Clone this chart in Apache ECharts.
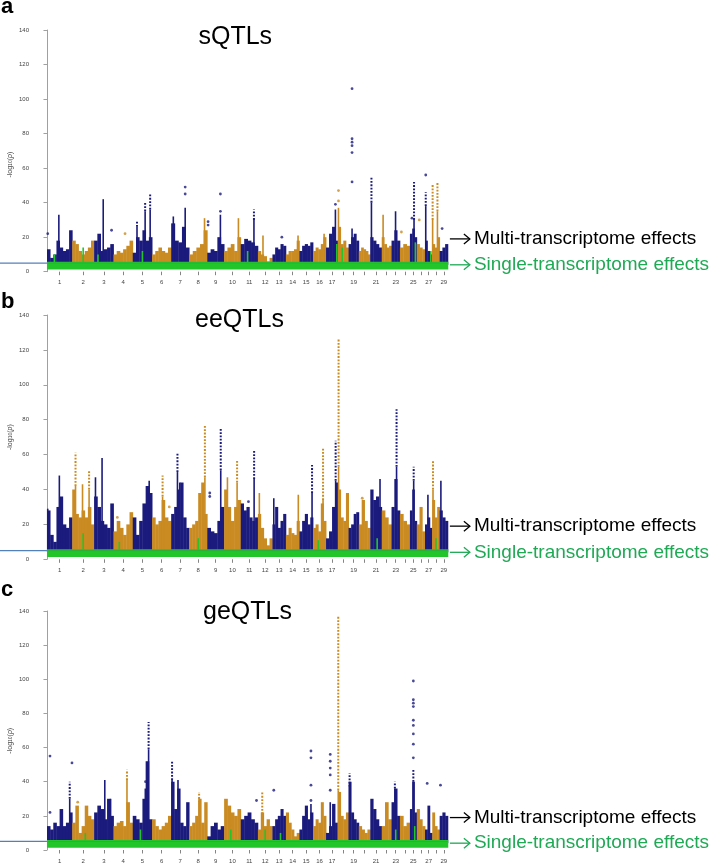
<!DOCTYPE html>
<html>
<head>
<meta charset="utf-8">
<script src="https://cdn.jsdelivr.net/npm/echarts@6.0.0/dist/echarts.min.js"></script>
<style>
  html, body { margin: 0; padding: 0; background: #fff; }
  #main { width: 711px; height: 864px; }
</style>
</head>
<body>
<div id="main"></div>
<script>
// chromosome lengths (Mb) and tick labels
var chromLen = [158.3, 137.1, 121.4, 120.6, 121.2, 119.5, 112.6, 113.4, 105.7, 104.3,
    107.3, 91.2, 84.2, 84.6, 85.3, 81.7, 75.2, 66.0, 64.1, 72.0,
    71.6, 61.4, 52.5, 62.7, 42.9, 51.7, 45.4, 46.3, 51.5];
var chromLabels = ['1','2','3','4','5','6','7','8','9','10','11','12','13','14','15','16','17','',
    '19','','21','','23','','25','','27','','29'];
var yTicks = [0, 20, 40, 60, 80, 100, 120, 140];

// body heights per chromosome (bins spread evenly along each chromosome)
var sqtlBody = [
    [13, 8, 10, 18, 14, 12, 13, 24], [18, 16, 12, 10, 12, 14, 18], [18, 22, 12, 13, 14, 16],
    [10, 12, 11, 13, 15, 18], [11, 20, 18, 24, 18, 20], [10, 12, 14, 12, 11, 14],
    [28, 18, 17, 26, 14], [10, 12, 14, 16, 24], [11, 13, 12, 20, 16], [12, 14, 16, 12, 20],
    [16, 19, 18, 17, 15], [12, 10, 9, 6, 8], [10, 14, 13, 16, 15], [10, 12, 12, 13, 18],
    [12, 15, 16, 15, 17], [12, 14, 13, 16, 20], [14, 22, 26, 18], [26, 16, 18, 14],
    [16, 20, 22, 18], [12, 14, 13, 12, 10], [20, 18, 16, 14], [20, 16, 14, 15],
    [18, 24, 18], [14, 16, 15], [22, 25, 20], [16, 14, 13], [18, 12, 10], [16, 14, 20], [12, 14, 16]
];
// [chromosome, position 0-1, solid top, dotted top]
var sqtlSpikes = [
    [1, 0.47, 33, 0], [3, 0.47, 42, 0], [5, 0.22, 26, 29], [5, 0.64, 35, 40], [5, 0.9, 36, 45],
    [7, 0.12, 32, 0], [7, 0.78, 37, 0], [8, 0.85, 31, 0], [9, 0.78, 33, 0], [10, 0.86, 31, 0],
    [11, 0.77, 30, 36], [12, 0.35, 21, 0], [14, 0.9, 21, 0], [16, 0.85, 22, 0], [17, 0.78, 36, 0],
    [18, 0.04, 37, 0], [19, 0.34, 25, 0], [21, 0.1, 40, 55], [22, 0.14, 33, 0], [23, 0.48, 35, 0],
    [25, 0.6, 30, 52], [27, 0.1, 38, 46], [28, 0.05, 30, 51], [28, 0.7, 35, 52]
];
// [chromosome, position 0-1, value]
var sqtlDots = [
    [1, 0.03, 22], [3, 0.9, 24], [4, 0.6, 22], [7, 0.78, 45], [7, 0.78, 49], [9, 0.05, 29],
    [9, 0.05, 27], [9, 0.78, 35], [9, 0.78, 45], [13, 0.7, 20], [17, 0.78, 39], [18, 0.04, 41],
    [18, 0.04, 47], [19, 0.34, 52], [19, 0.34, 69], [19, 0.34, 73], [19, 0.34, 75], [19, 0.34, 77],
    [19, 0.34, 106], [24, 0.15, 23], [25, 0.3, 31], [26, 0.3, 30], [27, 0.1, 56], [29, 0.3, 25]
];
var sqtlGreen = [
    [1, 0.3, 10], [2, 0.5, 14], [3, 0.2, 10], [5, 0.5, 12], [11, 0.4, 12], [17, 0.9, 16],
    [18, 0.4, 14], [25, 0.8, 17], [27, 0.8, 12]
];

var eeqtlBody = [
    [28, 14, 10, 30, 36, 20, 18, 24], [40, 26, 24, 28, 24, 30, 20], [36, 30, 22, 20, 18, 32],
    [16, 22, 18, 14, 20, 27], [24, 14, 22, 32, 42, 38], [24, 20, 22, 34, 24, 22],
    [26, 30, 40, 44, 24, 18], [18, 20, 22, 38, 44, 26], [18, 16, 15, 22, 30], [40, 30, 22, 30, 34],
    [32, 28, 30, 24, 22, 24], [26, 18, 12, 8, 12], [20, 30, 18, 22, 26], [14, 18, 15, 14, 22],
    [16, 22, 26, 20, 24], [18, 20, 16, 32, 22], [12, 16, 30, 44], [40, 24, 22, 38],
    [18, 20, 26, 27], [20, 34, 22, 18], [40, 34, 36, 30], [28, 24, 20],
    [30, 46, 28], [26, 22, 20], [28, 40, 22], [20, 30, 16], [20, 24, 18], [34, 24, 30], [28, 24, 22]
];
var eeqtlSpikes = [
    [1, 0.03, 29, 0], [1, 0.49, 48, 0], [2, 0.15, 42, 61], [2, 0.47, 43, 0], [2, 0.77, 40, 51],
    [3, 0.07, 47, 0], [3, 0.41, 58, 0], [5, 0.85, 45, 0], [6, 0.55, 36, 48], [7, 0.35, 50, 61],
    [7, 0.48, 44, 0], [8, 0.87, 47, 77], [9, 0.8, 51, 75], [10, 0.2, 47, 0], [10, 0.78, 44, 57],
    [11, 0.78, 46, 62], [12, 0.1, 38, 0], [13, 0.1, 35, 0], [14, 0.92, 37, 0], [15, 0.93, 38, 54],
    [16, 0.77, 34, 64], [17, 0.8, 45, 68], [18, 0.05, 53, 126], [21, 0.85, 46, 0], [23, 0.6, 53, 86],
    [25, 0.55, 45, 53], [27, 0.4, 37, 0], [28, 0.1, 40, 57], [29, 0.15, 45, 0]
];
var eeqtlDots = [
    [4, 0.2, 24], [6, 0.9, 30], [9, 0.15, 38], [9, 0.15, 36], [11, 0.45, 33], [20, 0.3, 35]
];
var eeqtlGreen = [
    [2, 0.5, 15], [4, 0.3, 10], [8, 0.5, 12], [16, 0.4, 11], [21, 0.6, 12], [28, 0.5, 12]
];

var geqtlBody = [
    [14, 12, 16, 14, 24, 14, 16, 22], [16, 26, 10, 14, 26, 20, 18], [22, 26, 24, 18, 30, 20],
    [14, 16, 17, 14, 28, 16], [20, 18, 16, 30, 52, 18], [18, 14, 12, 14, 16, 20],
    [40, 24, 36, 16, 14, 28], [14, 16, 20, 30, 16, 28], [8, 14, 16, 12, 14], [30, 26, 22, 20, 24],
    [18, 20, 22, 18, 16], [12, 22, 14, 18, 14], [14, 18, 20, 24, 20], [22, 16, 12, 8, 10],
    [12, 20, 26, 18, 22], [14, 18, 16, 28, 20], [10, 14, 27, 16], [34, 20, 18, 22],
    [40, 22, 18, 16], [14, 12, 10, 12], [30, 24, 18, 14], [14, 28, 18],
    [28, 36, 20], [20, 14, 16], [24, 40, 22], [24, 18, 14], [12, 26, 10], [22, 14, 12], [20, 22, 20]
];
var geqtlSpikes = [
    [1, 0.9, 30, 40], [3, 0.55, 41, 0], [3, 0.85, 30, 0], [4, 0.7, 41, 47], [5, 0.65, 36, 0],
    [5, 0.82, 59, 75], [7, 0.05, 41, 52], [7, 0.38, 41, 0], [8, 0.55, 28, 34], [12, 0.3, 21, 34],
    [15, 0.85, 27, 0], [17, 0.35, 28, 0], [18, 0.02, 35, 137], [19, 0.1, 37, 45], [23, 0.4, 36, 40],
    [25, 0.5, 40, 47]
];
var geqtlDots = [
    [1, 0.12, 55], [1, 0.12, 22], [1, 0.99, 51], [2, 0.25, 28], [5, 0.66, 40], [11, 0.92, 29],
    [13, 0.1, 35], [15, 0.85, 29], [15, 0.85, 38], [15, 0.85, 54], [15, 0.85, 58],
    [17, 0.35, 35], [17, 0.35, 44], [17, 0.35, 48], [17, 0.35, 52], [17, 0.35, 56],
    [25, 0.5, 54], [25, 0.5, 62], [25, 0.5, 68], [25, 0.5, 73], [25, 0.5, 76], [25, 0.5, 84],
    [25, 0.5, 86], [25, 0.5, 88], [25, 0.5, 99], [27, 0.3, 39], [29, 0.1, 38]
];
var geqtlGreen = [
    [2, 0.6, 10], [5, 0.4, 12], [10, 0.4, 12], [12, 0.5, 12], [13, 0.6, 10], [23, 0.5, 12], [25, 0.7, 14]
];

var threshold = 5;

var NAVY = '#1b1b7d', GOLD = '#c98b22', GREEN = '#22c62a', TEXTGREEN = '#1fa955';
var FONT = '"Liberation Sans", Arial, Helvetica, sans-serif';

var chromStart = [], total = 0;
chromLen.forEach(function (l) { chromStart.push(total); total += l; });
var chromMid = chromLen.map(function (l, i) { return chromStart[i] + l / 2; });
var labelMid = chromMid.filter(function (m, i) { return chromLabels[i] !== ''; });

function posOf(chr, frac) { return chromStart[chr - 1] + frac * chromLen[chr - 1]; }

function buildBody(body) {
    var out = [];
    body.forEach(function (bins, i) {
        var w = chromLen[i] / bins.length;
        bins.forEach(function (top, j) {
            out.push([chromStart[i] + j * w, chromStart[i] + (j + 1) * w, top, i % 2, 4]);
        });
    });
    return out;
}
function buildSpikes(list, green) {
    return list.map(function (s) {
        return [posOf(s[0], s[1]), s[2], s[3], green ? 2 : (s[0] - 1) % 2];
    });
}
function buildDots(list) {
    return list.map(function (d) { return [posOf(d[0], d[1]), d[2], (d[0] - 1) % 2]; });
}
function colorOf(p) { return p === 2 ? GREEN : (p ? GOLD : NAVY); }

// rect from (x0, top) to (x1, base)
function renderRect(params, api) {
    var a = api.coord([api.value(0), api.value(2)]);
    var b = api.coord([api.value(1), api.value(4)]);
    return {
        type: 'rect',
        shape: { x: a[0], y: a[1], width: b[0] - a[0] + 0.4, height: b[1] - a[1] },
        style: { fill: colorOf(api.value(3)) }
    };
}
// thin column, solid then dotted
function renderSpike(params, api) {
    var x = api.value(0), top = api.value(1), dTop = api.value(2), c = colorOf(api.value(3));
    var b = api.coord([x, 4]), t = api.coord([x, top]);
    var kids = [{ type: 'line', shape: { x1: b[0], y1: b[1], x2: t[0], y2: t[1] }, style: { stroke: c, lineWidth: 1.6 } }];
    if (dTop > top) {
        var d = api.coord([x, dTop]);
        kids.push({ type: 'line', shape: { x1: t[0], y1: t[1], x2: d[0], y2: d[1] },
            style: { stroke: c, lineWidth: 2, lineDash: [1.8, 1.5] } });
    }
    return { type: 'group', children: kids };
}

var panels = [
    { letter: 'a', letterY: -4, title: 'sQTLs', top: 30, height: 241.7, titleX: 235.3, titleY: 37,
      body: sqtlBody, spikes: sqtlSpikes, dots: sqtlDots, green: sqtlGreen, nameVal: 62 },
    { letter: 'b', letterY: 291, title: 'eeQTLs', top: 315, height: 244.3, titleX: 239.5, titleY: 320,
      body: eeqtlBody, spikes: eeqtlSpikes, dots: eeqtlDots, green: eeqtlGreen, nameVal: 70 },
    { letter: 'c', letterY: 579, title: 'geQTLs', top: 611, height: 239, titleX: 247.5, titleY: 612,
      body: geqtlBody, spikes: geqtlSpikes, dots: geqtlDots, green: geqtlGreen, nameVal: 64 }
];

var grids = [], xAxes = [], yAxes = [], series = [];
panels.forEach(function (p, i) {
    grids.push({ left: 35, top: p.top, width: 415, height: p.height });
    xAxes.push({
        type: 'value', gridIndex: i, min: -75, max: 2525,
        axisLine: { show: false }, splitLine: { show: false },
        axisTick: { show: true, customValues: chromMid, length: 3.5, lineStyle: { color: '#666', width: 0.8 } },
        axisLabel: {
            customValues: labelMid, margin: 8, fontSize: 6, color: '#444', fontFamily: FONT,
            formatter: function (v) {
                for (var k = 0; k < chromMid.length; k++) {
                    if (Math.abs(chromMid[k] - v) < 0.01) return chromLabels[k];
                }
                return '';
            }
        }
    });
    yAxes.push({
        type: 'value', gridIndex: i, min: yTicks[0], max: yTicks[yTicks.length - 1], interval: 20,
        axisLine: { show: true, lineStyle: { color: '#888', width: 0.8 } },
        axisTick: { show: true, length: 3.5, lineStyle: { color: '#888', width: 0.8 } },
        splitLine: { show: false },
        axisLabel: { fontSize: 6, color: '#444', margin: 6, fontFamily: FONT }
    });
    series.push({
        type: 'custom', xAxisIndex: i, yAxisIndex: i, z: 2, silent: true,
        renderItem: renderRect, encode: { x: [0, 1], y: 2 }, data: buildBody(p.body)
    });
    series.push({
        type: 'custom', xAxisIndex: i, yAxisIndex: i, z: 3, silent: true,
        renderItem: renderSpike, encode: { x: 0, y: [1, 2] }, data: buildSpikes(p.spikes, false)
    });
    // single-transcriptome band
    series.push({
        type: 'custom', xAxisIndex: i, yAxisIndex: i, z: 4, silent: true,
        renderItem: renderRect, encode: { x: [0, 1], y: 2 }, data: [[0, total, 5.8, 2, 1.3]]
    });
    series.push({
        type: 'custom', xAxisIndex: i, yAxisIndex: i, z: 4, silent: true,
        renderItem: renderSpike, encode: { x: 0, y: [1, 2] }, data: buildSpikes(p.green, true)
    });
    series.push({
        type: 'scatter', xAxisIndex: i, yAxisIndex: i, z: 5, silent: true,
        symbolSize: 2.8, data: buildDots(p.dots),
        itemStyle: { color: function (q) { return colorOf(q.value[2]); } }
    });
});

var chart = echarts.init(document.getElementById('main'), null, { renderer: 'canvas' });
chart.setOption({
    backgroundColor: '#fff',
    animation: false,
    grid: grids, xAxis: xAxes, yAxis: yAxes, series: series
});

// text, threshold line and arrows placed through the axes
var graphics = [];
panels.forEach(function (p, i) {
    var f = { gridIndex: i };
    var yThr = chart.convertToPixel(f, [0, threshold])[1];
    var xStart = chart.convertToPixel(f, [0, 0])[0];
    var xEnd = chart.convertToPixel(f, [total, 0])[0];
    graphics.push({ type: 'line', z: 10, shape: { x1: 0, y1: yThr, x2: xStart, y2: yThr },
        style: { stroke: '#3f73b3', lineWidth: 1.2, opacity: 0.9 } });
    graphics.push({ type: 'line', z: 10, shape: { x1: xStart, y1: yThr, x2: xEnd, y2: yThr },
        style: { stroke: '#2f9a4a', lineWidth: 0.8, opacity: 0.6 } });
    graphics.push({ type: 'text', x: 1, y: p.letterY, z: 10,
        style: { text: p.letter, font: 'bold 22px ' + FONT, fill: '#000', textVerticalAlign: 'top' } });
    graphics.push({ type: 'text', x: p.titleX, y: p.titleY, z: 10,
        style: { text: p.title, font: '25px ' + FONT, fill: '#000', textAlign: 'center', textVerticalAlign: 'middle' } });
    var yName = chart.convertToPixel(f, [0, p.nameVal])[1];
    graphics.push({ type: 'text', x: 10, y: yName, rotation: Math.PI / 2, z: 10,
        style: { text: '-log{sub|10}({it|p})', font: '7px ' + FONT, fill: '#444',
            textAlign: 'center', textVerticalAlign: 'middle',
            rich: { sub: { fontSize: 5, fill: '#444', verticalAlign: 'bottom', fontFamily: FONT },
                    it: { fontSize: 7, fontStyle: 'italic', fill: '#444', fontFamily: FONT } } } });
    [['Multi-transcriptome effects', 19, '#000'], ['Single-transcriptome effects', 4, TEXTGREEN]].forEach(function (a) {
        var y = chart.convertToPixel(f, [0, a[1]])[1];
        var x0 = xEnd + 2, x1 = xEnd + 22;
        graphics.push({ type: 'line', z: 11, shape: { x1: x0, y1: y, x2: x1, y2: y }, style: { stroke: a[2], lineWidth: 1.3 } });
        graphics.push({ type: 'polyline', z: 11, shape: { points: [[x1 - 6, y - 5], [x1, y], [x1 - 6, y + 5]] },
            style: { stroke: a[2], lineWidth: 1.3, fill: null } });
        graphics.push({ type: 'text', z: 11, x: x1 + 4, y: y,
            style: { text: a[0], font: '19px ' + FONT, fill: a[2], textVerticalAlign: 'middle' } });
    });
});
chart.setOption({ graphic: graphics });
</script>
</body>
</html>
